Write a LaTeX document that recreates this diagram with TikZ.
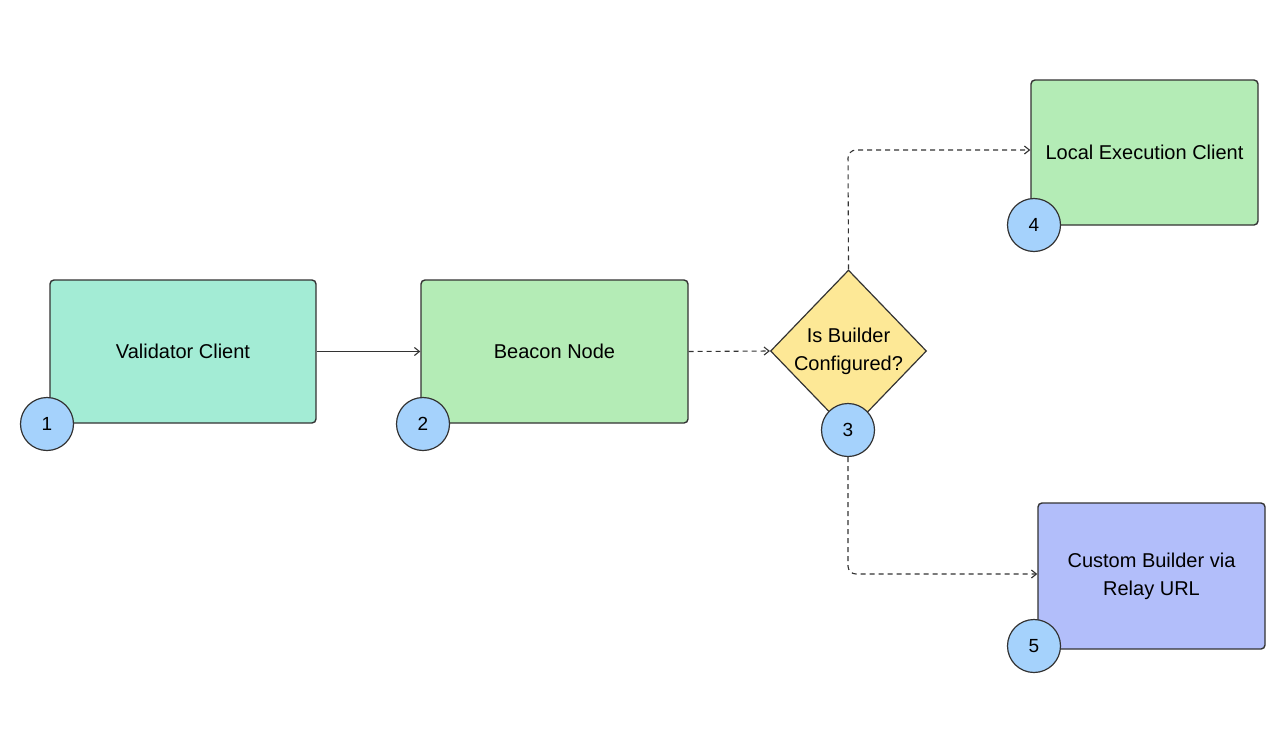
\documentclass[tikz,border=0pt]{standalone}
\usepackage{fontspec}
\setmainfont{Liberation Sans}
\usetikzlibrary{shapes.geometric,arrows.meta,positioning}
\definecolor{tealf}{RGB}{163,236,213}
\definecolor{greenf}{RGB}{180,236,182}
\definecolor{yellowf}{RGB}{253,232,150}
\definecolor{bluef}{RGB}{178,190,250}
\definecolor{circf}{RGB}{165,210,252}
\definecolor{strk}{RGB}{51,51,51}
\tikzset{
  box/.style={draw=strk, line width=1.4pt, rounded corners=4pt, minimum width=#1, inner sep=0pt, align=center, font=\fontsize{20}{28}\selectfont},
  box/.default=266pt,
  numc/.style={circle, draw=strk, line width=1.2pt, fill=circf, minimum size=53pt, inner sep=0pt, font=\fontsize{19}{20}\selectfont},
  dec/.style={diamond, draw=strk, line width=1.2pt, fill=yellowf, minimum width=156pt, minimum height=162pt, inner sep=0pt, align=center, font=\fontsize{20}{28}\selectfont},
  conn/.style={draw=strk, line width=1.1pt, -{Straight Barb[length=5pt,width=8pt]}},
  dconn/.style={conn, dash pattern=on 5pt off 4pt, rounded corners=8pt}
}
\begin{document}
\begin{tikzpicture}[x=1pt,y=-1pt]
\useasboundingbox[fill=white] (0,0) rectangle (1283,747);
\node[box=266pt, minimum height=143pt, fill=tealf] (vc) at (183,351.5) {Validator Client};
\node[box=267pt, minimum height=143pt, fill=greenf] (bn) at (554.5,351.5) {Beacon Node};
\node[dec] (d) at (848.5,351) {Is Builder\\Configured?};
\node[box=227pt, minimum height=145pt, fill=greenf] (lec) at (1144.5,152.5) {Local Execution Client};
\node[box=227pt, minimum height=146pt, fill=bluef] (cb) at (1151.5,576) {Custom Builder via\\Relay URL};
\node[numc] (c1) at (47,424) {1};
\node[numc] (c2) at (423,424) {2};
\node[numc] (c3) at (848,430) {3};
\node[numc] (c4) at (1034,225) {4};
\node[numc] (c5) at (1034,646) {5};
\coordinate (t1) at (848,150);
\coordinate (t2) at (848,574);
\draw[conn] (vc.east) -- (bn.west);
\draw[dconn] (bn.east) -- (d.west);
\draw[dconn] (d.north) -- (t1) -- (lec.west |- t1);
\draw[dconn] (c3.south) -- (t2) -- (cb.west |- t2);
\end{tikzpicture}
\end{document}
